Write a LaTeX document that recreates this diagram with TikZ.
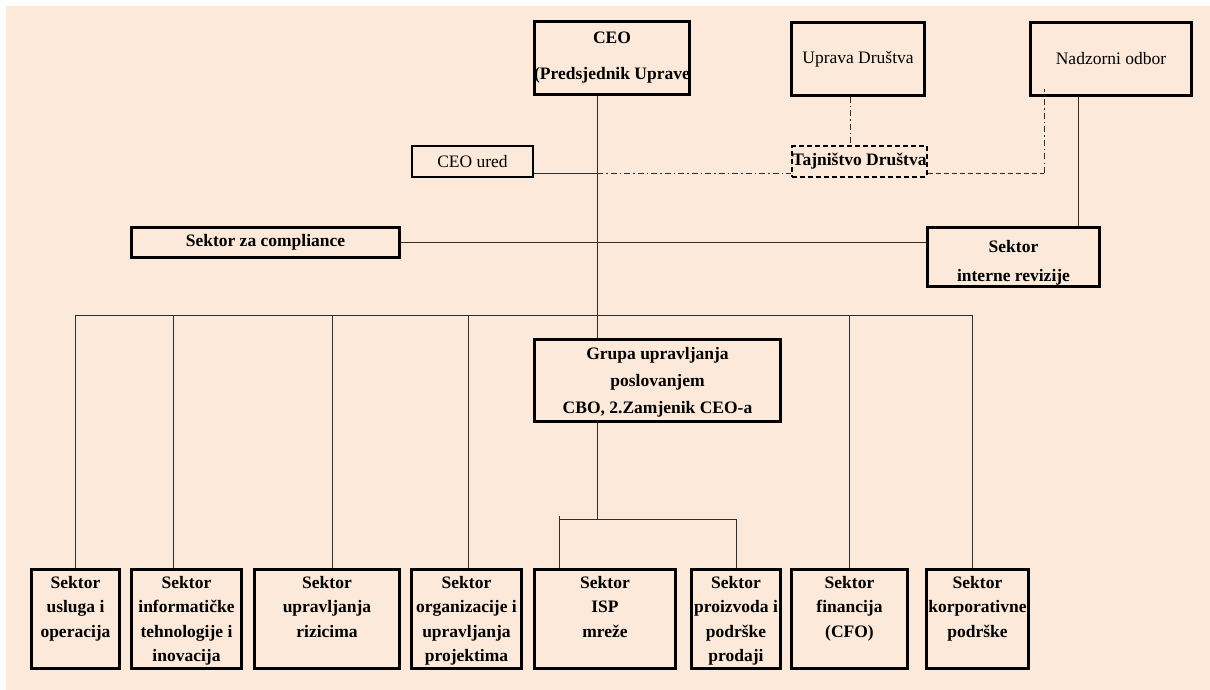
\documentclass[tikz,border=0pt]{standalone}
\usepackage{fontspec}
\setmainfont{Liberation Serif}
\definecolor{sheet}{HTML}{FDE9DA}
\definecolor{wire}{HTML}{2E2E2E}
\newcommand{\sektortext}[2]{\parbox[c][86pt][t]{#1}{\centering #2}}

\begin{document}
\begin{tikzpicture}[x=1pt,y=-1pt,
            every node/.style={font=\fontsize{17.5}{23}\selectfont},
            unit/.style={draw=black, line width=3pt, inner sep=0pt, align=center},
            bunit/.style={unit, font=\fontsize{17.5}{23}\selectfont\bfseries},
            sektor/.style={unit, font=\fontsize{17.5}{24.5}\selectfont\bfseries},
            link/.style={draw=wire, line width=1pt},
            dotlink/.style={link, dash pattern=on 6pt off 3pt on 1.5pt off 3pt},
            dashlink/.style={link, dash pattern=on 5pt off 3pt}]
            \useasboundingbox (0,0) rectangle (1210,690);
            \fill[sheet] (6,6) rectangle (1210,690);

            % top row
            \node[bunit, minimum width=155pt, minimum height=73pt] (ceo) at (612,58)
                {CEO\\[13pt](Predsjednik Uprave};
            \node[unit, minimum width=133pt, minimum height=73pt] (uprava) at (858,59) {Uprava Društva};
            \node[unit, minimum width=161pt, minimum height=73pt] (nadz) at (1111,59) {Nadzorni odbor};

            % staff units
            \node[unit, line width=2pt, minimum width=121pt, minimum height=31pt] (ceoured) at (472.5,161.5) {CEO ured};
            \node[bunit, line width=2pt, dash pattern=on 5pt off 3pt, minimum width=133pt, minimum height=31pt]
                (tajn) at (859.5,161.5) {Tajništvo Društva};
            \node[bunit, minimum width=268pt, minimum height=30pt] (comp) at (265.5,242.5) {Sektor za compliance};
            \node[bunit, minimum width=172pt, minimum height=59pt] (rev) at (1013.5,257)
                {\rule{0pt}{24pt}Sektor\\[6pt]interne revizije};
            \node[bunit, minimum width=246pt, minimum height=82pt] (grupa) at (657.5,380.5)
                {\rule{0pt}{16pt}Grupa upravljanja\\[4pt]poslovanjem\\[4pt]CBO, 2.Zamjenik CEO-a};

            % sectors
            \foreach \n/\x/\w/\t in {
                b1/75.5/88/{Sektor\\usluga i\\operacija},
                b2/186.5/110/{Sektor\\informatičke\\tehnologije i\\inovacija},
                b3/327/145/{Sektor\\upravljanja\\rizicima},
                b4/466.5/110/{Sektor\\organizacije i\\upravljanja\\projektima},
                b5/605/141/{Sektor\\ISP\\mreže},
                b6/736/89/{Sektor\\proizvoda i\\podrške\\prodaji},
                b7/849.5/116/{Sektor\\financija\\(CFO)},
                b8/977.5/102/{Sektor\\korporativne\\podrške}}
                \node[sektor, minimum width=\w pt, minimum height=99pt] (\n) at (\x,619)
                    {\sektortext{\dimexpr\w pt-2pt\relax}{\t}};

            % connectors
            \coordinate (trunk) at (597,0);
            \coordinate (sec) at (0,173);
            \coordinate (nadzdot) at (1044,89);
            \coordinate (audit) at (1078,0);
            \coordinate (bus) at (0,315);
            \coordinate (sub) at (0,519);

            \draw[link] (ceo.south -| trunk) -- (grupa.north -| trunk);
            \draw[link] (ceoured.east |- sec) -- (trunk |- sec);
            \draw[dotlink] (trunk |- sec) -- (tajn.west |- sec);
            \draw[dotlink] ([xshift=-8pt]uprava.south) -- ([xshift=-8pt]uprava.south |- tajn.north);
            \draw[dashlink] (tajn.east |- sec) -- (nadzdot |- sec);
            \draw[dotlink] (nadzdot |- sec) -- (nadzdot);
            \draw[link] (nadz.south -| audit) -- (rev.north -| audit);
            \draw[link] (comp.east) -- (comp.east -| rev.west);

            \draw[link] (b1.north) |- ([xshift=-5.5pt]b8.north |- bus) -- ([xshift=-5.5pt]b8.north);
            \foreach \n/\dx in {b2/-13.5, b3/5, b4/1.5, b7/0}
                \draw[link] ([xshift=\dx pt]\n.north) -- ([xshift=\dx pt]\n.north |- bus);

            \draw[link] (grupa.south -| trunk) -- (trunk |- sub);
            \draw[link] ([xshift=-46pt,yshift=3pt]b5.north |- sub) -- ([xshift=-46pt]b5.north);
            \draw[link] ([xshift=-46pt]b5.north |- sub) -- (b6.north |- sub) -- (b6.north);
        \end{tikzpicture}
\end{document}
